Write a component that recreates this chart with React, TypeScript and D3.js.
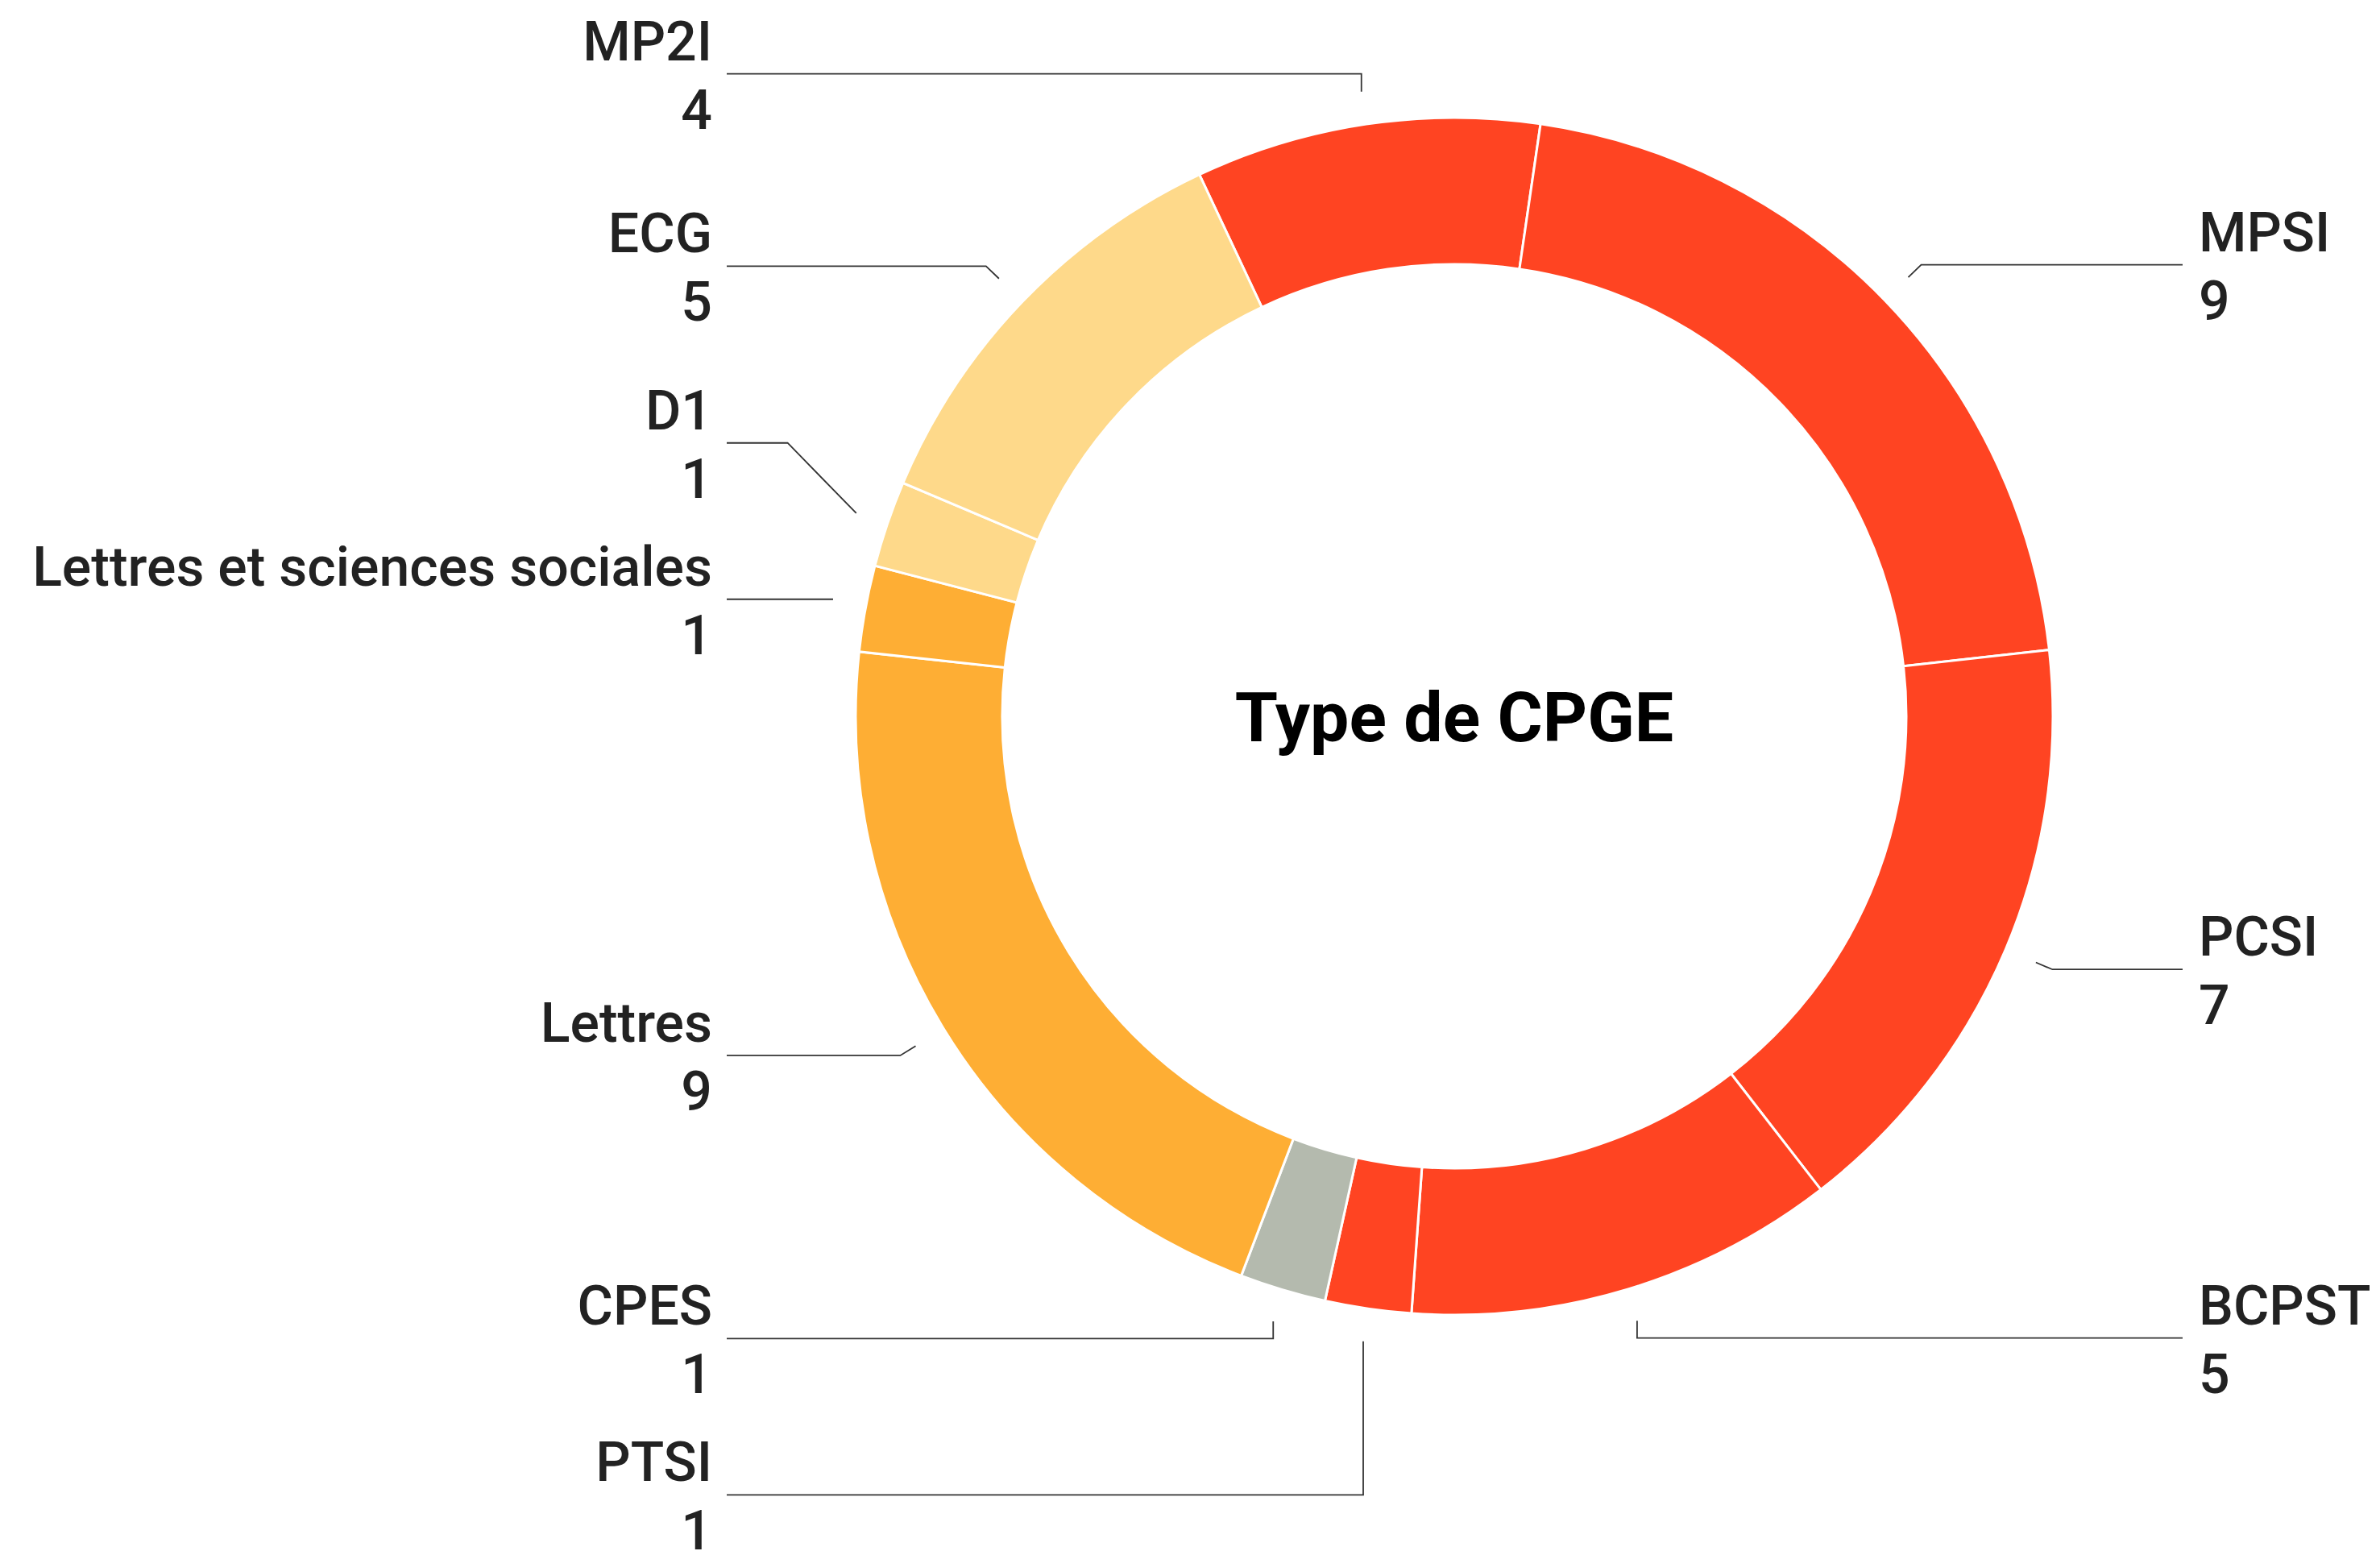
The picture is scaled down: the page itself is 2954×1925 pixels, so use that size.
import React from 'react';
import * as d3 from 'd3';

// Type de CPGE — effectifs par filière
const categories = ['MP2I', 'MPSI', 'PCSI', 'BCPST', 'PTSI', 'CPES', 'Lettres', 'Lettres et sciences sociales', 'D1', 'ECG'];
const counts = [4, 9, 7, 5, 1, 1, 9, 1, 1, 5];
const familles = ['sci', 'sci', 'sci', 'sci', 'sci', 'cpes', 'lettres', 'lettres', 'eco', 'eco'];
const couleurs: Record<string, string> = {
  sci: '#ff4422',
  cpes: '#b4baae',
  lettres: '#feae34',
  eco: '#fed98a',
};
const titre = 'Type de CPGE';

const W = 2954;
const H = 1925;
const cx = 1805;
const cy = 889;
const rOuter = 743;
const rInner = 561;
const rStart = rOuter * 1.055;
const rElbow = rOuter * 1.085;
const minGap = 194;
const FONT = "Roboto, 'DejaVu Sans', sans-serif";

type Lbl = {
  name: string;
  value: number;
  side: number;
  mid: number;
  sx: number;
  sy: number;
  ex: number;
  ey: number;
  y: number;
};

function placeLabels(list: Lbl[]) {
  // au-dessus du centre : on pousse vers le haut, en dessous : vers le bas
  const above = list.filter(d => d.ey < cy).sort((a, b) => b.ey - a.ey);
  const below = list.filter(d => d.ey >= cy).sort((a, b) => a.ey - b.ey);
  let last = Infinity;
  above.forEach(d => {
    d.y = Math.min(d.ey, last - minGap);
    last = d.y;
  });
  last = -Infinity;
  below.forEach(d => {
    d.y = Math.max(d.ey, last + minGap);
    last = d.y;
  });
}

export default function App() {
  const pie = d3.pie<number>()
    .sort(null)
    .value(d => d)
    .startAngle((-25.2 * Math.PI) / 180)
    .endAngle((-25.2 * Math.PI) / 180 + 2 * Math.PI);
  const arcs = pie(counts);
  const arc = d3.arc<d3.PieArcDatum<number>>().innerRadius(rInner).outerRadius(rOuter);

  const labels: Lbl[] = arcs.map((a, i) => {
    const mid = (a.startAngle + a.endAngle) / 2;
    const s = Math.sin(mid);
    const c = Math.cos(mid);
    return {
      name: categories[i],
      value: counts[i],
      side: s < 0 ? -1 : 1,
      mid,
      sx: cx + rStart * s,
      sy: cy - rStart * c,
      ex: cx + rElbow * s,
      ey: cy - rElbow * c,
      y: 0,
    };
  });
  placeLabels(labels.filter(d => d.side < 0));
  placeLabels(labels.filter(d => d.side > 0));

  const lineLeft = 902;
  const lineRight = 2709;
  const textLeft = 884;
  const textRight = 2729;

  const leader = (d: Lbl) => {
    const endX = d.side < 0 ? lineLeft : lineRight;
    const s = Math.abs(Math.sin(d.mid));
    // presque horizontal et non déplacé : trait droit
    if (s > 0.95 && Math.abs(d.y - d.ey) < 1) {
      return d3.line()([[d.sx, d.y], [endX, d.y]]) || '';
    }
    const elbowX = s < 0.5 ? d.sx : d.ex + d.side * Math.abs(d.y - d.ey) * 0.8;
    return d3.line()([[d.sx, d.sy], [elbowX, d.y], [endX, d.y]]) || '';
  };

  return (
    <svg width={W} height={H} style={{ position: 'absolute', left: 0, top: 0, background: '#fff' }}>
      <g transform={`translate(${cx},${cy})`}>
        {arcs.map((a, i) => (
          <path key={categories[i]} d={arc(a) || ''} fill={couleurs[familles[i]]} stroke="#fff" strokeWidth={3} />
        ))}
      </g>
      <text
        x={cx}
        y={cy + 31}
        textAnchor="middle"
        fontFamily={FONT}
        fontWeight={700}
        fontSize={86}
        fill="#000"
      >
        {titre}
      </text>
      {labels.map(d => (
        <g key={d.name}>
          <path d={leader(d)} fill="none" stroke="#333" strokeWidth={1.8} />
          <text
            x={d.side < 0 ? textLeft : textRight}
            textAnchor={d.side < 0 ? 'end' : 'start'}
            fontFamily={FONT}
            fontWeight={500}
            fontSize={68}
            fill="#222"
          >
            <tspan x={d.side < 0 ? textLeft : textRight} y={d.y - 17}>{d.name}</tspan>
            <tspan x={d.side < 0 ? textLeft : textRight} y={d.y + 68}>{d.value}</tspan>
          </text>
        </g>
      ))}
    </svg>
  );
}
